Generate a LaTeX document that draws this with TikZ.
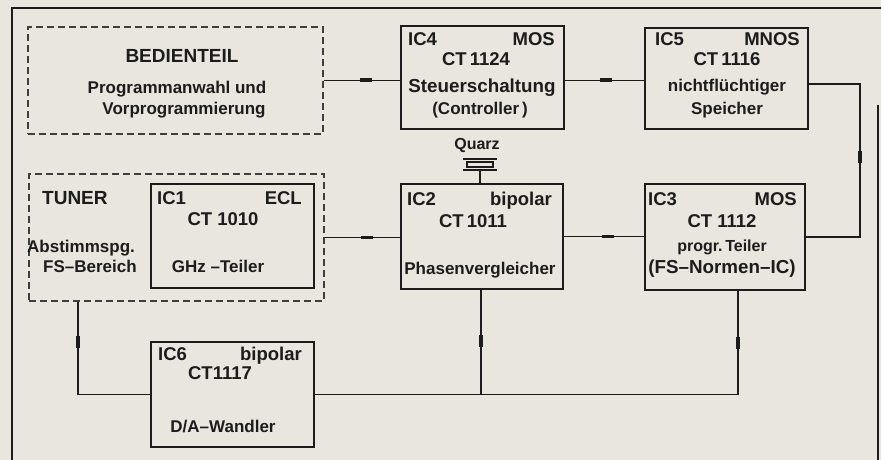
\documentclass[tikz,border=0pt]{standalone}
\usepackage{fontspec}
\setmainfont{Liberation Sans}
\usetikzlibrary{calc}
\definecolor{paper}{RGB}{233,230,223}
\definecolor{ink}{RGB}{28,28,28}
\begin{document}
\begin{tikzpicture}[x=1pt,y=-1pt,
  icbox/.style={draw=ink, line width=2pt, inner sep=0pt, anchor=north west},
  dbox/.style={draw=ink!85, line width=1.6pt, dash pattern=on 7pt off 4pt, inner sep=0pt, anchor=north west},
  wire/.style={draw=ink, line width=1.4pt},
  bus/.style={fill=ink, inner sep=0pt, minimum width=12pt, minimum height=3.6pt, sloped},
  txt/.style={font=\fontsize{17}{20}\selectfont\bfseries, text=ink, inner sep=0pt, anchor=mid},
  wide/.style={txt, font=\fontsize{18.8}{22}\selectfont\bfseries},
  big/.style={txt, font=\fontsize{18.5}{22}\selectfont\bfseries},
  hd/.style={txt, font=\fontsize{19}{22}\selectfont\bfseries},
  sm/.style={txt, font=\fontsize{16}{19}\selectfont\bfseries}]
\fill[paper] (0,0) rectangle (881,460);
\useasboundingbox (0,0) rectangle (881,460);
% frame
\draw[ink, line width=2.2pt] (12,460) -- (12,8) -- (881,8);
\draw[ink, line width=2.2pt] (878,105) -- (878,460);

% boxes
\node[dbox, minimum width=295pt, minimum height=107pt] (bed) at (27,26) {};
\node[dbox, minimum width=295pt, minimum height=127pt] (tuner) at (28,173) {};
\node[icbox, minimum width=163pt, minimum height=103pt] (ic4) at (400,25) {};
\node[icbox, minimum width=163pt, minimum height=101pt] (ic5) at (644,27) {};
\node[icbox, minimum width=163pt, minimum height=104pt] (ic1) at (150,183) {};
\node[icbox, minimum width=162pt, minimum height=105pt] (ic2) at (400,183) {};
\node[icbox, minimum width=160pt, minimum height=106pt] (ic3) at (644,183) {};
\node[icbox, minimum width=163pt, minimum height=105pt] (ic6) at (150,341) {};

% quartz
\node[draw=ink, line width=1.2pt, minimum width=26pt, minimum height=5pt, inner sep=0pt] (xtal) at (480,164.5) {};
\draw[ink, line width=1.6pt] ($(xtal.north west)+(-3,-2.5)$) -- ($(xtal.north east)+(3,-2.5)$);
\draw[ink, line width=1.6pt] ($(xtal.south west)+(-3,2.5)$) -- ($(xtal.south east)+(3,2.5)$);
\draw[wire] ($(xtal.south)+(0,2.5)$) -- (ic2.north -| xtal.south);
\node[sm] (quarz) at (477,147) {Quarz};

% connectors
\draw[wire] (bed.east) -- node[bus,pos=0.56]{} (bed.east -| ic4.west);
\draw[wire] (ic4.east |- bed.east) -- node[bus,pos=0.52]{} (ic5.west |- bed.east);
\draw[wire] ([yshift=-5.5pt]ic5.east) -- ++(51,0) |- node[bus,pos=0.24]{} (ic3.east);
\draw[wire] (tuner.east) -- node[bus,pos=0.56]{} (tuner.east -| ic2.west);
\draw[wire] (ic2.east) -- node[bus,pos=0.55]{} (ic2.east -| ic3.west);
\draw[wire] ([xshift=50pt]tuner.south west) |- node[bus,pos=0.22]{} (ic6.west);
\draw[wire] (ic6.east) -| node[bus,pos=0.75]{} ([xshift=13pt]ic3.south);
\draw[wire] ([xshift=-1pt]ic2.south) -- node[bus,pos=0.49]{} ([xshift=-1pt]ic2.south |- ic6.east);

% BEDIENTEIL
\node[hd] (b1) at (182,60) {BEDIENTEIL};
\node[txt] (b2) at (177,91) {Programmanwahl und};
\node[txt] (b3) at (184,112) {Vorprogrammierung};
% IC4
\node[big, anchor=mid west] (c4a) at (408,43) {IC4};
\node[big, anchor=mid east] (c4b) at (555,43) {MOS};
\node[big] (c4c) at (476,63) {CT\,1124};
\node[wide] (c4d) at (482,90) {Steuerschaltung};
\node[txt] (c4e) at (480,112) {(Controller\,)};
% IC5
\node[big, anchor=mid west] (c5a) at (655,43) {IC5};
\node[big, anchor=mid east] (c5b) at (800,43) {MNOS};
\node[big] (c5c) at (727,63) {CT\,1116};
\node[txt] (c5d) at (727,89) {nichtflüchtiger};
\node[txt] (c5e) at (727,112) {Speicher};
% TUNER / IC1
\node[hd, anchor=mid west] (t1) at (42,202) {TUNER};
\node[txt, anchor=mid west] (t2) at (27,250) {Abstimmspg.};
\node[txt] (t3) at (90,270) {FS–Bereich};
\node[big, anchor=mid west] (c1a) at (157,202) {IC1};
\node[big, anchor=mid east] (c1b) at (302,202) {ECL};
\node[big] (c1c) at (223,223) {CT 1010};
\node[txt] (c1d) at (218,270) {GHz –Teiler};
% IC2
\node[big, anchor=mid west] (c2a) at (407,203) {IC2};
\node[big, anchor=mid east] (c2b) at (552,203) {bipolar};
\node[big] (c2c) at (473,225) {CT\,1011};
\node[txt] (c2d) at (480,272) {Phasenvergleicher};
% IC3
\node[big, anchor=mid west] (c3a) at (648,203) {IC3};
\node[big, anchor=mid east] (c3b) at (797,203) {MOS};
\node[big] (c3c) at (722,225) {CT 1112};
\node[sm] (c3d) at (722,249) {progr.\,Teiler};
\node[wide] (c3e) at (722,271) {(FS–Normen–IC)};
% IC6
\node[big, anchor=mid west] (c6a) at (158,358) {IC6};
\node[big, anchor=mid east] (c6b) at (302,358) {bipolar};
\node[big] (c6c) at (220,377) {CT1117};
\node[txt] (c6d) at (223,430) {D/A–Wandler};
\end{tikzpicture}
\end{document}
